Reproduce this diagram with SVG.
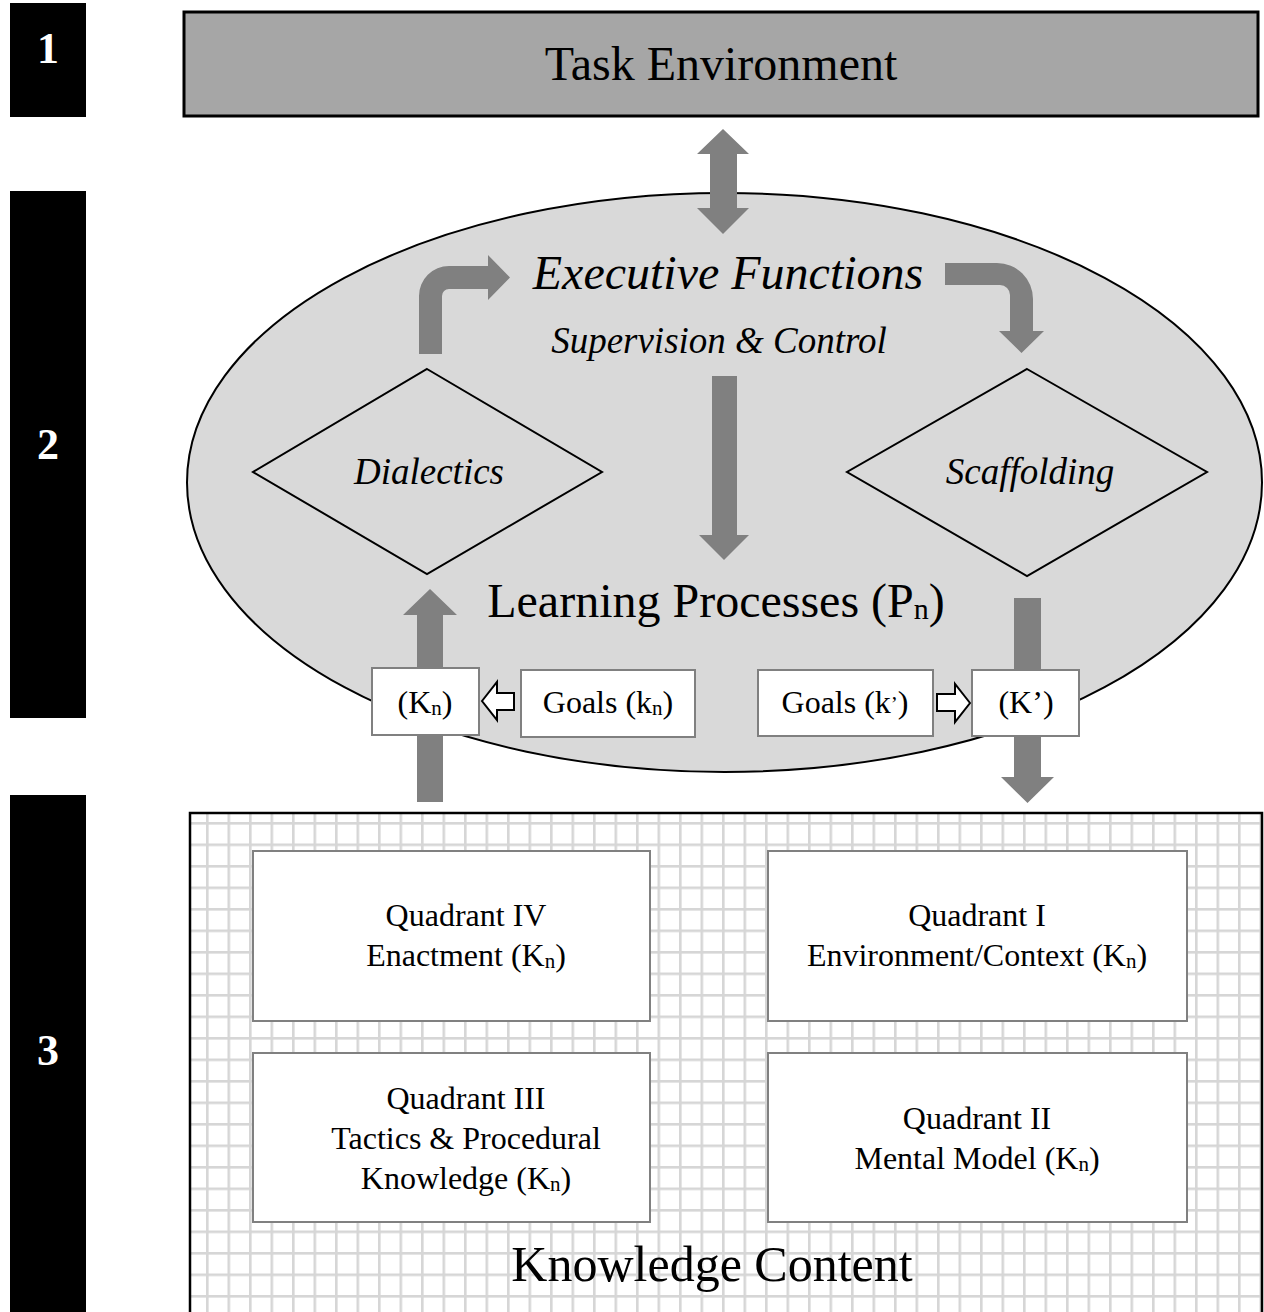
<svg xmlns="http://www.w3.org/2000/svg" width="1264" height="1312" viewBox="0 0 1264 1312">
<style>
text{font-family:"Liberation Serif","Times New Roman",serif;fill:#000}
.num{fill:#fff;font-weight:bold;font-size:44px;text-anchor:middle}
.it{font-style:italic;text-anchor:middle}
.c{text-anchor:middle}
.band{fill:#000}
.q{fill:#fff;stroke:#808080;stroke-width:2}
.lbl{fill:#fff;stroke:#808080;stroke-width:2}
.big{fill:#808080}
.hollow{fill:#fff;stroke:#000;stroke-width:2;stroke-linejoin:miter}
.dia{fill:none;stroke:#000;stroke-width:2}
</style>
<defs>
<pattern id="grid" patternUnits="userSpaceOnUse" x="206" y="822" width="21.5" height="21.5">
<rect width="21.5" height="21.5" fill="#fff"/>
<rect x="0" y="0" width="2.6" height="21.5" fill="#d6d6d6"/>
<rect x="0" y="0" width="21.5" height="2.6" fill="#d6d6d6"/>
</pattern>
</defs>
<rect width="1264" height="1312" fill="#fff"/>

<g id="band1"><rect class="band" x="10" y="3" width="76" height="114"/><text class="num" x="48" y="63">1</text></g>
<g id="band2"><rect class="band" x="10" y="191" width="76" height="527"/><text class="num" x="48" y="459">2</text></g>
<g id="band3"><rect class="band" x="10" y="795" width="76" height="517"/><text class="num" x="48" y="1065">3</text></g>

<g id="task-environment">
<rect x="184" y="12" width="1074" height="104" fill="#a6a6a6" stroke="#000" stroke-width="3"/>
<text class="c" x="721" y="80" font-size="48">Task Environment</text>
</g>

<g id="learning-processes">
<ellipse cx="724.5" cy="482.5" rx="537.5" ry="289.5" fill="#d9d9d9" stroke="#000" stroke-width="2"/>
<text class="it" x="728" y="289" font-size="48">Executive Functions</text>
<text class="it" x="719" y="353" font-size="37">Supervision &amp; Control</text>
<text class="c" x="716" y="617" font-size="48">Learning Processes (P<tspan font-size="30" dy="2">n</tspan><tspan dy="-2">)</tspan></text>
</g>

<g id="dialectics">
<polygon class="dia" points="427,369 602,472 427,574 253,472"/>
<text class="it" x="429" y="484" font-size="37">Dialectics</text>
</g>
<g id="scaffolding">
<polygon class="dia" points="1027,369 1207,472 1027,576 847,472"/>
<text class="it" x="1030" y="484" font-size="37">Scaffolding</text>
</g>

<g id="knowledge-content">
<rect x="190" y="813" width="1072" height="510" fill="url(#grid)" stroke="#000" stroke-width="2.5"/>
<text class="c" x="712" y="1281" font-size="50">Knowledge Content</text>
</g>

<g id="quadrant-iv">
<rect class="q" x="253" y="851" width="397" height="170"/>
<text class="c" x="466" y="926" font-size="32">Quadrant IV</text>
<text class="c" x="466" y="966" font-size="32">Enactment (K<tspan font-size="21" dy="2">n</tspan><tspan dy="-2">)</tspan></text>
</g>
<g id="quadrant-i">
<rect class="q" x="768" y="851" width="419" height="170"/>
<text class="c" x="977" y="926" font-size="32">Quadrant I</text>
<text class="c" x="977" y="966" font-size="32">Environment/Context (K<tspan font-size="21" dy="2">n</tspan><tspan dy="-2">)</tspan></text>
</g>
<g id="quadrant-iii">
<rect class="q" x="253" y="1053" width="397" height="169"/>
<text class="c" x="466" y="1109" font-size="32">Quadrant III</text>
<text class="c" x="466" y="1149" font-size="32">Tactics &amp; Procedural</text>
<text class="c" x="466" y="1189" font-size="32">Knowledge (K<tspan font-size="21" dy="2">n</tspan><tspan dy="-2">)</tspan></text>
</g>
<g id="quadrant-ii">
<rect class="q" x="768" y="1053" width="419" height="169"/>
<text class="c" x="977" y="1129" font-size="32">Quadrant II</text>
<text class="c" x="977" y="1169" font-size="32">Mental Model (K<tspan font-size="21" dy="2">n</tspan><tspan dy="-2">)</tspan></text>
</g>

<g id="connectors">
<path class="big" d="M723,129 L749,154 L737,154 L737,208 L749,208 L723,234 L697,208 L710,208 L710,154 L697,154 Z"/>
<path class="big" d="M419,354 L419,296 A30,30 0 0 1 449,266 L488,266 L488,255 L510,277.5 L488,300 L488,289 L449,289 A7,7 0 0 0 442,296 L442,354 Z"/>
<path class="big" d="M945,263 L997,263 A36,36 0 0 1 1033,299 L1033,331 L1044,331 L1021.5,353 L999,331 L1010,331 L1010,295 A10,10 0 0 0 1000,285 L945,285 Z"/>
<path class="big" d="M712,376 L737,376 L737,535 L749,535 L724,560 L699,535 L712,535 Z"/>
<path class="big" d="M430,589 L457,615 L443,615 L443,802 L417,802 L417,615 L403,615 Z"/>
<path class="big" d="M1014,598 L1041,598 L1041,777 L1054,777 L1027.5,803 L1001,777 L1014,777 Z"/>
<path class="hollow" d="M482,701 L497,682 L497,693 L514,693 L514,710 L497,710 L497,720 Z"/>
<path class="hollow" d="M970,703 L955,684 L955,694 L937,694 L937,711 L955,711 L955,722 Z"/>
</g>

<g id="k-n">
<rect class="lbl" x="372" y="668" width="107" height="67"/>
<text class="c" x="425" y="713" font-size="32">(K<tspan font-size="21" dy="2">n</tspan><tspan dy="-2">)</tspan></text>
</g>
<g id="goals-kn">
<rect class="lbl" x="521" y="670" width="174" height="67"/>
<text class="c" x="608" y="713" font-size="32">Goals (k<tspan font-size="21" dy="2">n</tspan><tspan dy="-2">)</tspan></text>
</g>
<g id="goals-kprime">
<rect class="lbl" x="758" y="670" width="175" height="66"/>
<text class="c" x="845" y="713" font-size="32">Goals (k<tspan font-size="21" dy="-2">’</tspan><tspan dy="2">)</tspan></text>
</g>
<g id="k-prime">
<rect class="lbl" x="972" y="670" width="107" height="66"/>
<text class="c" x="1026" y="713" font-size="32">(K’)</text>
</g>
</svg>
